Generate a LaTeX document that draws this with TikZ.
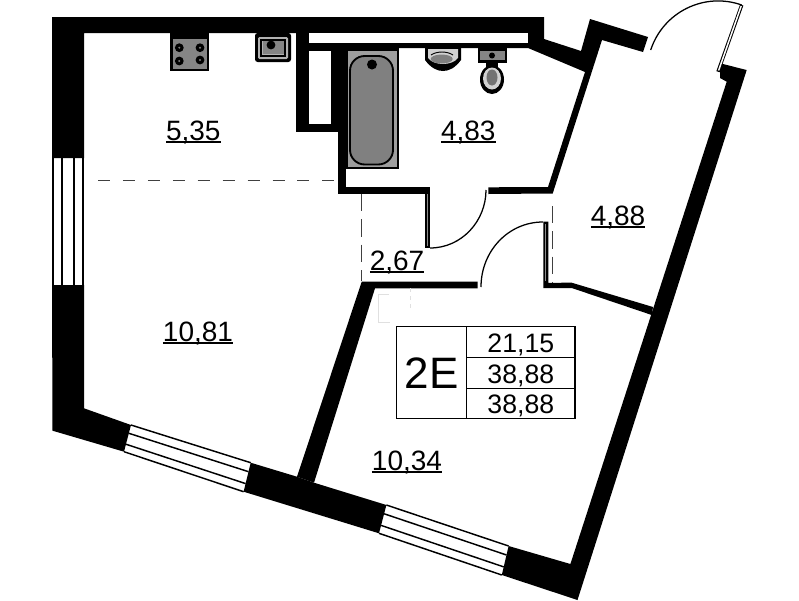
\documentclass[tikz,border=0pt]{standalone}
\usepackage{fontspec}
\setmainfont{Liberation Sans}
\usetikzlibrary{calc}
\newcommand\areatxt[1]{\setbox0\hbox{#1}\rlap{\rule[-2.1pt]{\wd0}{1.1pt}}\box0}
\tikzset{
  wall/.style={fill=black,draw=none},
  blank/.style={fill=white,draw=none},
  fixture/.style={fill=black!48,draw=none},
  thinline/.style={draw=black,line width=1.05pt},
  glass/.style={draw=black,line width=1.1pt},
  swing/.style={draw=black,line width=0.95pt},
  zone/.style={draw=black!75,line width=0.7pt,dash pattern=on 9pt off 9.7pt},
  area/.style={anchor=base,inner sep=0pt,font=\fontsize{21}{25}\selectfont},
  cell/.style={anchor=base,inner sep=0pt,font=\fontsize{20}{24}\selectfont},
}
\begin{document}
\begin{tikzpicture}[x=0.75pt,y=-0.75pt]
\path[use as bounding box] (0,0) rectangle (799,600);
\clip (0,0) rectangle (799,600);
\fill[white] (0,0) rectangle (799,600);
% outer walls
\path[wall] (52,17)--(544,17)--(544,39)--(581,51)--(590,19)--(648,37)--(643,52)--(602,40)--(552.7,193.5)--(488.3,194)--(488.3,187.3)--(548,187)--(585,72)--(528,48)--(309,48)--(309,33)--(84,33)--(84,158)--(52,158)--cycle;
\path[wall] (52,285)--(84,285)--(84,408.3)--(131,425)--(124,451.7)--(52.5,430.7)--cycle;
\path[wall] (250.7,462.7)--(297,476.7)--(314,482.7)--(386.4,505)--(379,533.3)--(243.6,491.7)--cycle;
\path[wall] (508.6,546)--(570.4,564)--(726.7,81.7)--(720,78)--(720,63.3)--(746.7,70)--(577.5,600)--(501.8,575)--cycle;
% partitions
\path[wall] (361.7,281.7)--(477.7,281.7)--(477.7,288.3)--(375,288.3)--(314,482.7)--(297,476.7)--cycle;
\path[wall] (543.3,221.7)--(548.3,221.7)--(548.3,282.8)--(571.7,282.7)--(653,307)--(651.7,315)--(571.7,288)--(543.3,288)--cycle;
\path[wall] (296,33)--(347,33)--(347,132)--(296,132)--cycle;
\path[wall] (337.7,132) rectangle (346,194);
\path[wall] (337.7,187.3) rectangle (430,194);
\path[wall] (425,187.3) rectangle (430,248);
\path[blank] (309,33) rectangle (528,43);
\path[wall] (309,43) rectangle (528,48);
\path[blank] (309,51) rectangle (331,124);
% windows
\foreach \wx in {53,62,74,83}{\draw[glass] (\wx,158)--(\wx,285);}
\coordinate (wa1) at (131,425); \coordinate (wa2) at (250.7,462.7);
\coordinate (wb1) at (124,451.7); \coordinate (wb2) at (243.6,491.7);
\coordinate (wc1) at (386.4,505); \coordinate (wc2) at (508.6,546);
\coordinate (wd1) at (379,533.3); \coordinate (wd2) at (501.8,575);
\foreach \f in {0,0.31,0.72,1}{
  \draw[glass] ($(wa1)!\f!(wb1)$)--($(wa2)!\f!(wb2)$);
  \draw[glass] ($(wc1)!\f!(wd1)$)--($(wc2)!\f!(wd2)$);
}
% balcony door
\draw[draw=black,line width=2.6pt] (741.7,5)--(718,71.7);
\draw[draw=white,line width=1.1pt] (741.2,6)--(718.6,70.5);
\draw[swing] (650.7,50) .. controls (663.1,12.1) and (704.1,-8.3) .. (741.7,5);
% inner doors
\draw[swing] (430,248) .. controls (461.7,248) and (486,221) .. (486,190);
\draw[swing] (543,222) .. controls (508.2,222) and (481,251.2) .. (481,287);
\draw[draw=black!45,line width=0.5pt] (427.5,194)--(427.5,246);
\draw[draw=black!45,line width=0.5pt] (545.8,224)--(545.8,281);
% zone lines
\draw[zone] (98,180.5)--(336,180.5);
\draw[draw=black!75,line width=0.7pt,dash pattern=on 13pt off 6pt] (361.7,194)--(361.7,281);
\draw[draw=black!75,line width=0.7pt,dash pattern=on 13pt off 6pt] (552,206)--(552,283);
% faint mark
\draw[draw=black!12,line width=0.6pt] (389,294)--(378.5,294)--(378.5,322)--(390,322);
\draw[draw=black!12,line width=0.6pt,dashed] (410,288)--(410,312);
% cooker
\path[wall] (170,33) rectangle (209,71);
\path[fixture] (172.5,39) rectangle (207,69);
\foreach \bx/\by in {179.3/47.7,200/47.7,179.3/61,200/60}{
  \fill[black] (\bx,\by) circle[radius=4.4];
  \fill[black!50] (\bx,\by) circle[radius=1.1];
}
% kitchen sink
\path[wall,rounded corners=2pt] (255,33) rectangle (291,62);
\path[fill=black!30,rounded corners=1pt] (258,37) rectangle (288,59);
\draw[draw=black,line width=0.8pt] (261,40) rectangle (285,56);
\path[fixture] (263,41) rectangle (284,54);
\fill[black] (271,45) circle[radius=4.4];
% bath
\path[wall] (346,48) rectangle (398.5,168.5);
\path[fill=black!38] (348,51) rectangle (396.5,166.5);
\draw[fill=black!50,draw=black,line width=1.4pt,rounded corners=11pt] (350,56) rectangle (393,164.5);
\fill[black] (372,64.5) circle[radius=5];
% basin
\path[wall] (425,48)--(461,48)--(461,60) .. controls (455,68) and (449,71) .. (443,71) .. controls (437,71) and (431,68) .. (425,60)--cycle;
\path[fill=black!18] (428,49) .. controls (432,49) and (452,49) .. (458,49)--(458,58) .. controls (452,66) and (434,66) .. (428,58)--cycle;
\fill[black!50] (441.7,59) ellipse[x radius=11,y radius=4.5];
\draw[draw=black,line width=0.7pt] (431,55) .. controls (437,51) and (447,51) .. (453,55);
% toilet
\path[wall] (477.7,48) rectangle (507,62.5);
\path[fixture] (480,50.5) rectangle (505,60);
\fill[black] (492,55.5) circle[radius=3];
\path[wall] (486,62) rectangle (498,68);
\fill[black] (492,79.5) ellipse[x radius=12,y radius=14.5];
\fill[black!18] (492,78.5) ellipse[x radius=9,y radius=11];
\fill[black!55] (492,77.5) ellipse[x radius=5.5,y radius=8];
% info table
\draw[thinline] (396.7,326.7) rectangle (575,418.3);
\draw[thinline] (466.7,326.7)--(466.7,418.3);
\draw[thinline] (466.7,357.3)--(575,357.3);
\draw[thinline] (466.7,388.3)--(575,388.3);
\node[anchor=base,inner sep=0pt,font=\fontsize{33}{38}\selectfont] (code) at (431.7,388.5) {2E};
\node[cell] (t1) at (520.8,352.7) {21,15};
\node[cell] (t2) at (520.8,383.3) {38,88};
\node[cell] (t3) at (520.8,413.3) {38,88};
% room areas
\node[area] (r1) at (193.3,140) {\areatxt{5,35}};
\node[area] (r2) at (468.3,140) {\areatxt{4,83}};
\node[area] (r3) at (618,225) {\areatxt{4,88}};
\node[area] (r4) at (397,270) {\areatxt{2,67}};
\node[area] (r5) at (198,341) {\areatxt{10,81}};
\node[area] (r6) at (407,470) {\areatxt{10,34}};
\end{tikzpicture}
\end{document}
